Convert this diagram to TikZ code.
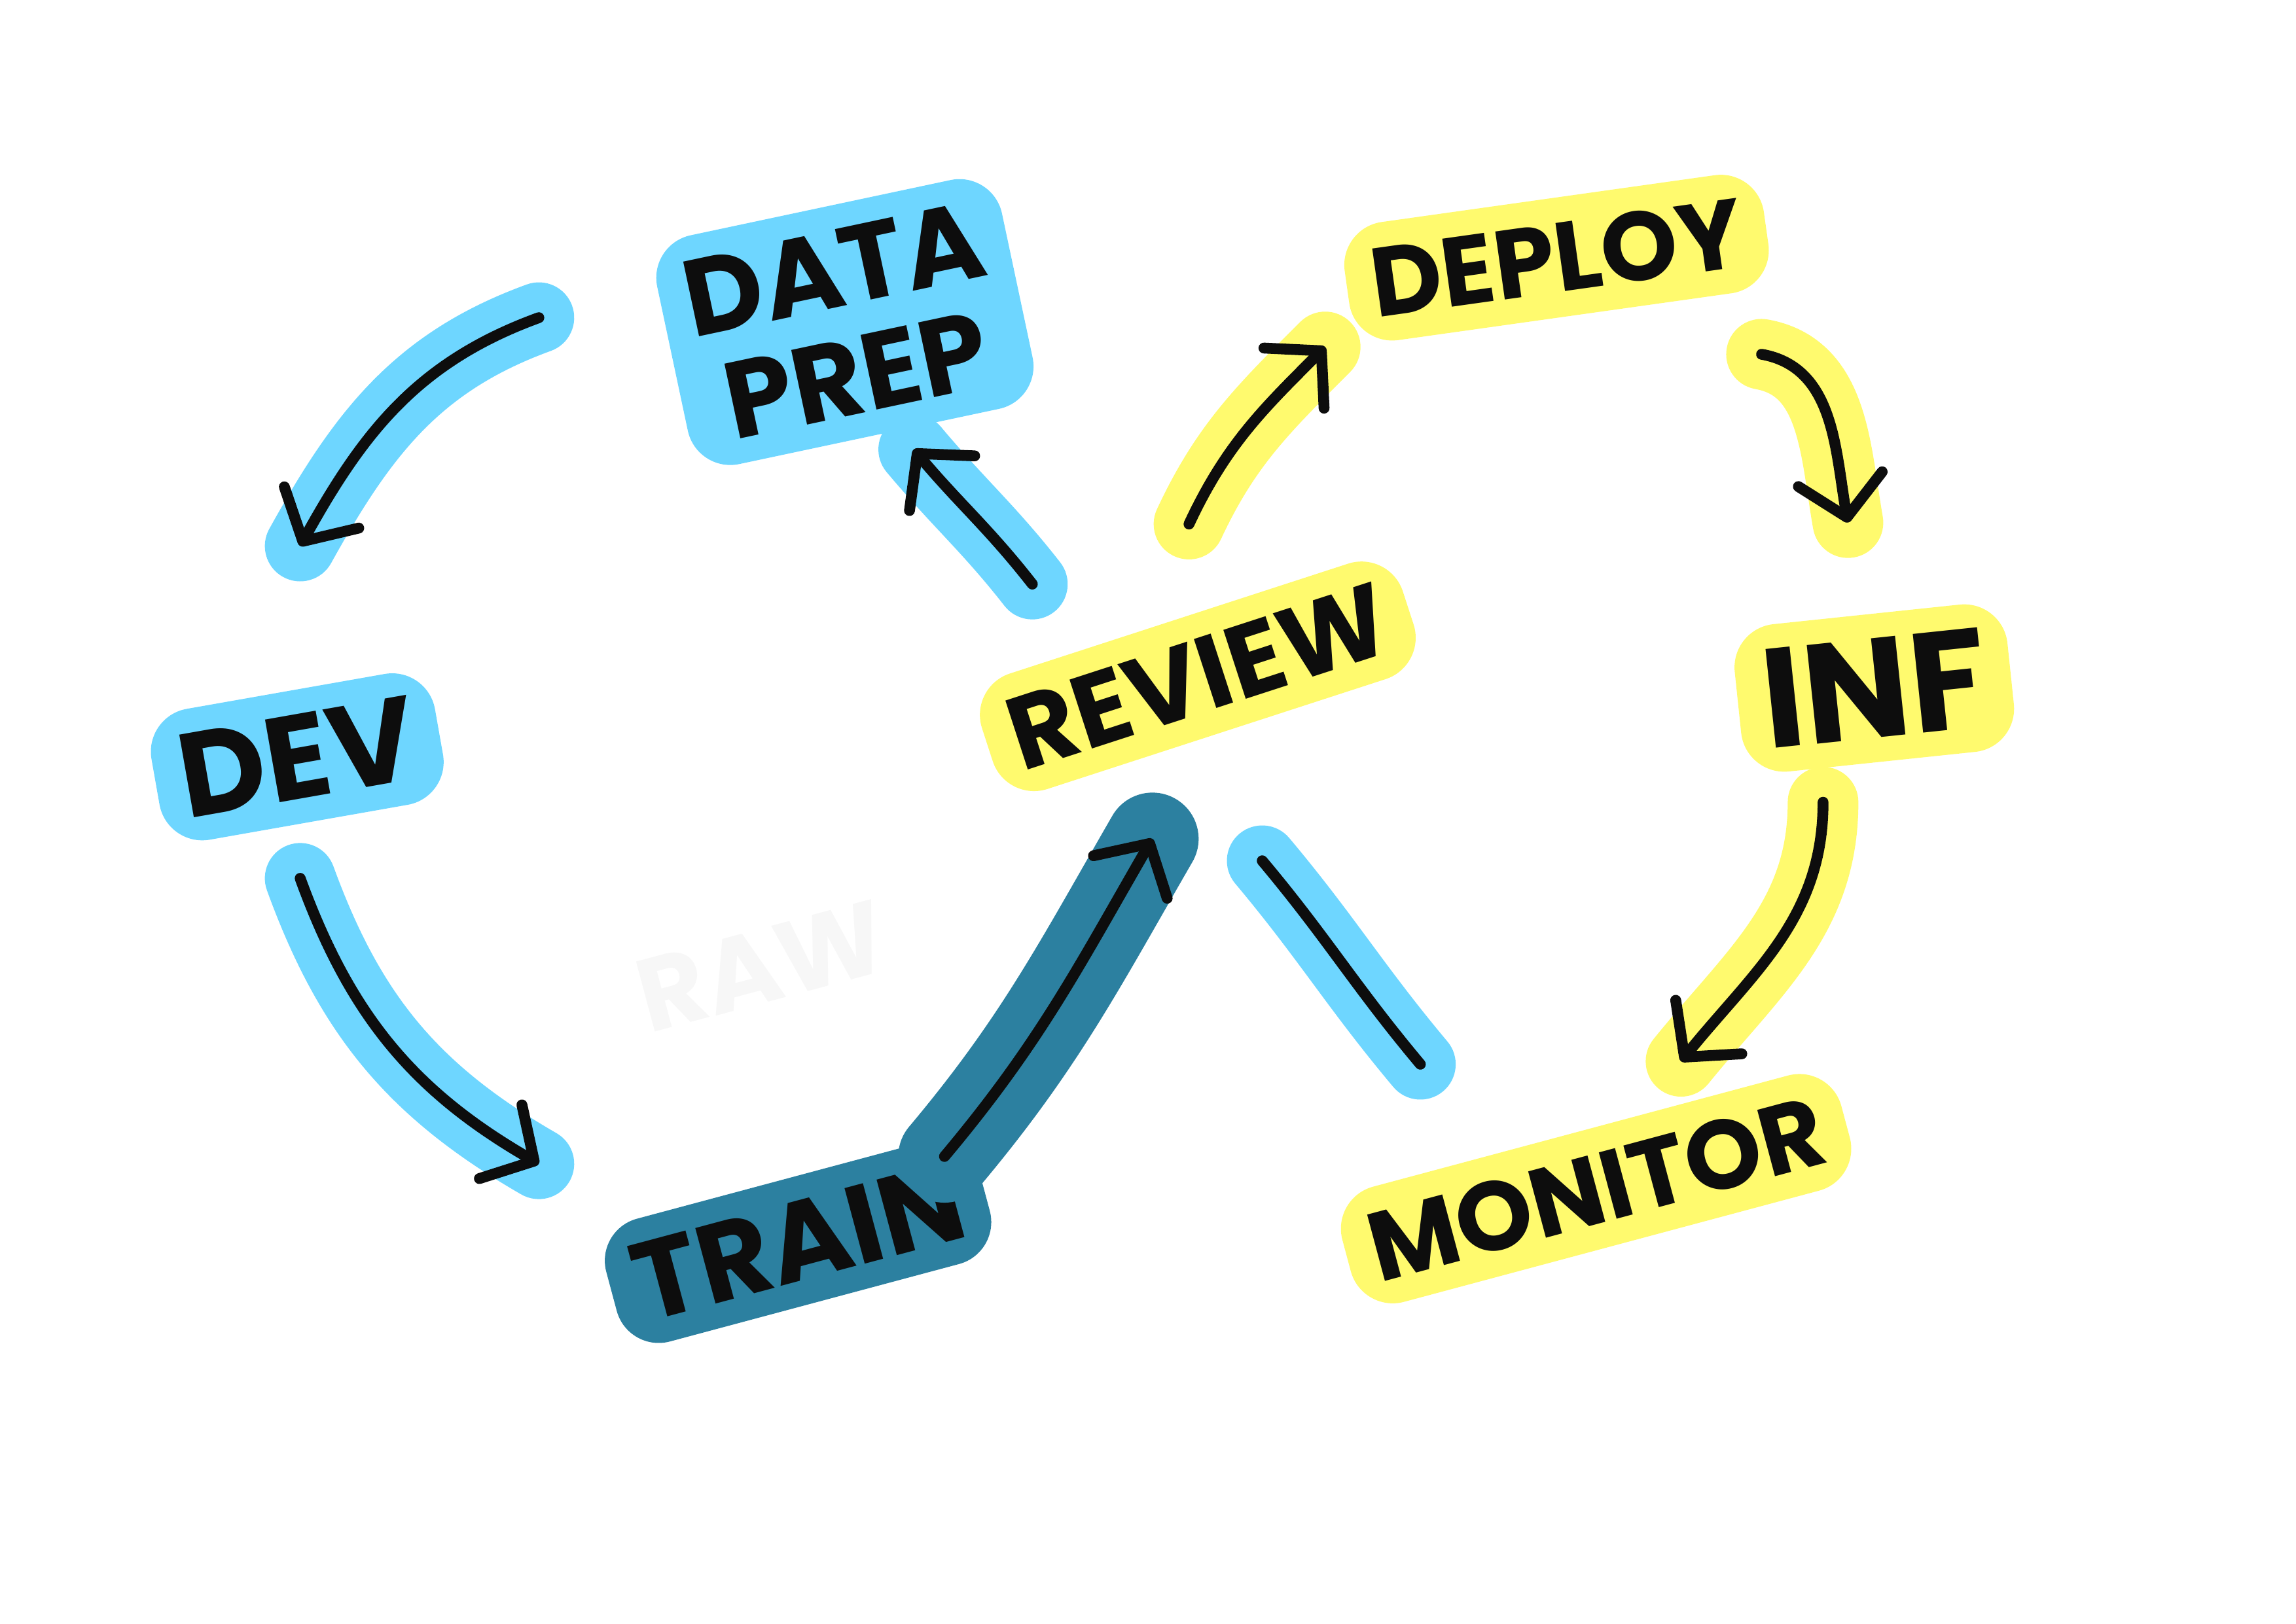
\documentclass[tikz,border=0pt]{standalone}
\usepackage{fontspec}
\setmainfont{Poppins}
\usetikzlibrary{arrows.meta}

\definecolor{skyhl}{RGB}{110,214,255}
\definecolor{lemonhl}{RGB}{255,250,110}
\definecolor{tealhl}{RGB}{44,128,160}
\definecolor{ink}{RGB}{13,13,13}

\newcommand{\handsize}[1]{\bfseries\fontsize{#1}{#1}\selectfont}

\tikzset{
  word/.style={text=ink, inner sep=9pt, rounded corners=16pt},
  flow/.style={ink, line width=4pt, line cap=round, line join=round,
    -{Straight Barb[length=0.5cm,width=1.1cm,round]}},
  glow/.style={preaction={draw=#1, line width=26pt, line cap=round, -}},
}

\begin{document}
\begin{tikzpicture}[x=0.018941cm, y=-0.018941cm]
  \useasboundingbox (0,0) rectangle (1568,1109);

  % faint leftover word
  \node[word, text=black!3, rotate=15, font=\handsize{38}] (raw) at (520,660) {RAW};

  \node[word, fill=tealhl, rotate=15, font=\handsize{41}] (train) at (545,848) {TRAIN};

  % arrows
  \coordinate (a1s) at (368,217);  \coordinate (a1e) at (205,373);
  \coordinate (a2s) at (205,600);  \coordinate (a2e) at (368,795);
  \coordinate (a3s) at (645,790);  \coordinate (a3e) at (787,573);
  \coordinate (a4s) at (705,399);  \coordinate (a4e) at (624,307);
  \coordinate (a5s) at (812,358);  \coordinate (a5e) at (905,237);
  \coordinate (a6s) at (1203,242); \coordinate (a6e) at (1262,357);
  \coordinate (a7s) at (1245,548); \coordinate (a7e) at (1148,725);
  \coordinate (a8s) at (862,588);  \coordinate (a8e) at (970,727);

  \draw[flow, glow=skyhl] (a1s) to[out=200, in=61] (a1e);
  \draw[flow, glow=skyhl] (a2s) to[out=290, in=150] (a2e);
  \draw[flow, preaction={draw=tealhl, line width=34pt, line cap=round, -}] (a3s) to[out=50, in=240] (a3e);
  \draw[flow, glow=skyhl] (a4s) to[out=128, in=310] (a4e);
  \draw[flow, glow=lemonhl] (a5s) to[out=65, in=225] (a5e);
  \draw[flow, glow=lemonhl] (a6s) to[out=-10, in=100] (a6e);
  \draw[flow, glow=lemonhl] (a7s) to[out=270, in=51] (a7e);
  \draw[flow, -, glow=skyhl] (a8s) to[out=-50, in=130] (a8e);

  % labels
  \node[word, fill=skyhl, rotate=12, align=center, font=\bfseries\fontsize{40}{40}\selectfont] (prep) at (577,220) {DATA\\PREP};
  \node[word, fill=skyhl, rotate=10, font=\handsize{44}] (dev) at (203,517) {DEV};
  \node[word, fill=lemonhl, rotate=18, font=\handsize{38}] (review) at (818,462) {REVIEW};
  \node[word, fill=lemonhl, rotate=8, font=\handsize{36}] (deploy) at (1063,176) {DEPLOY};
  \node[word, fill=lemonhl, rotate=6, font=\handsize{52}] (inf) at (1280,470) {INF};
  \node[word, fill=lemonhl, rotate=15, font=\handsize{36}] (monitor) at (1090,812) {MONITOR};
\end{tikzpicture}
\end{document}
